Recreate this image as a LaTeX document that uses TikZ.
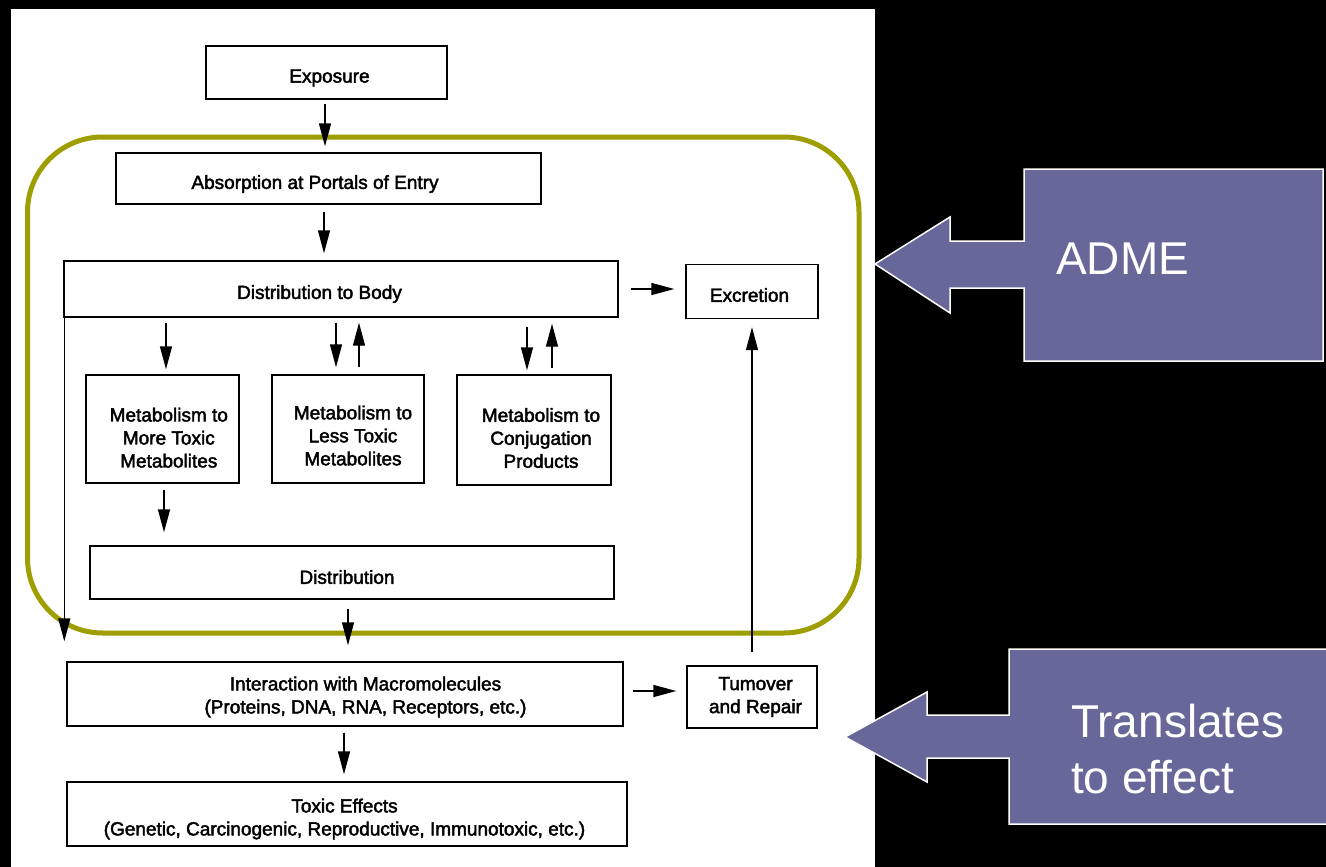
\documentclass[tikz,border=0pt]{standalone}
\usepackage{fontspec}
\setmainfont{Liberation Sans}
\newfontfamily\scanfont{Liberation Sans}[FakeBold=2.2]
\usetikzlibrary{arrows.meta,calc}
\definecolor{frameolive}{RGB}{158,158,0}
\definecolor{calloutfill}{RGB}{104,103,153}

\begin{document}
\begin{tikzpicture}[x=1pt,y=-1pt,
  box/.style={draw=black, line width=1.4pt, inner sep=0pt},
  boxtext/.style={font=\scanfont\fontsize{19}{23}\selectfont, align=center, inner sep=0pt, text=black},
  arr/.style={line width=1.4pt, draw=black, -{Triangle[length=23pt,width=12pt]}},
  callout/.style={fill=calloutfill, draw=white, line width=1.5pt, line join=miter},
  callouttext/.style={font=\fontsize{46}{56}\selectfont, text=white, align=left, inner sep=0pt, anchor=base west}]

\useasboundingbox (0,0) rectangle (1326,867);

% backdrop and white sheet
\fill[black] (0,0) rectangle (1326,867);
\fill[white] (11,9) rectangle (875,867);

% ADME frame
\draw[frameolive, line width=5pt, rounded corners=75pt] (27.5,137) rectangle (859,633);

% boxes
\node[box, minimum width=241pt, minimum height=53pt,
  label={[boxtext, xshift=3pt, yshift=-5.5pt]center:Exposure}] (expo) at (326.5,72.5) {};
\node[box, minimum width=425pt, minimum height=51pt,
  label={[boxtext, xshift=-13.5pt, yshift=-5.5pt]center:Absorption at Portals of Entry}] (absorb) at (328.5,178.5) {};
\node[box, minimum width=554pt, minimum height=56pt,
  label={[boxtext, xshift=-21.5pt, yshift=-5pt]center:Distribution to Body}] (distb) at (341,289) {};
\node[box, minimum width=132pt, minimum height=54pt,
  label={[boxtext, xshift=-2.5pt, yshift=-3.5pt]center:Excretion}] (excr) at (752,291.5) {};
\node[box, minimum width=153pt, minimum height=108pt,
  label={[boxtext, xshift=6.3pt, yshift=-8.7pt]center:{Metabolism to\\More Toxic\\Metabolites}}] (more) at (162.5,429) {};
\node[box, minimum width=152pt, minimum height=108pt,
  label={[boxtext, xshift=5pt, yshift=-6.5pt]center:{Metabolism to\\Less Toxic\\Metabolites}}] (less) at (348,429) {};
\node[box, minimum width=154pt, minimum height=110pt,
  label={[boxtext, xshift=7pt, yshift=-8pt]center:{Metabolism to\\Conjugation\\Products}}] (conj) at (534,430) {};
\node[box, minimum width=524pt, minimum height=53pt,
  label={[boxtext, xshift=-5pt, yshift=-4.5pt]center:Distribution}] (dist) at (352,572.5) {};
\node[box, minimum width=556pt, minimum height=64pt,
  label={[boxtext, xshift=20.5pt, yshift=-3pt]center:{Interaction with Macromolecules\\(Proteins, DNA, RNA, Receptors, etc.)}}] (inter) at (345,694) {};
\node[box, minimum width=130pt, minimum height=62pt,
  label={[boxtext, xshift=3.5pt, yshift=0pt]center:{Tumover\\and Repair}}] (turn) at (752,697) {};
\node[box, minimum width=560pt, minimum height=64pt,
  label={[boxtext, xshift=-2.5pt, yshift=-5pt]center:{Toxic Effects\\(Genetic, Carcinogenic, Reproductive, Immunotoxic, etc.)}}] (toxic) at (347,814) {};

% connectors
\draw[arr, shorten <=4pt, shorten >=6pt] ([xshift=-1.5pt]expo.south) -- ([xshift=-1.5pt]expo.south |- absorb.north);
\draw[arr, shorten <=7pt, shorten >=7pt] ([xshift=-4.5pt]absorb.south) -- ([xshift=-4.5pt]absorb.south |- distb.north);
\draw[arr, shorten <=12pt, shorten >=11pt] (distb.east) -- (distb.east -| excr.west);
\draw[arr, shorten <=5pt, shorten >=5pt] ([xshift=3.5pt]more.north |- distb.south) -- ([xshift=3.5pt]more.north);
\draw[arr, shorten <=5pt, shorten >=7pt] ([xshift=-12pt]less.north |- distb.south) -- ([xshift=-12pt]less.north);
\draw[arr, shorten <=7pt, shorten >=5pt] ([xshift=11pt]less.north) -- ([xshift=11pt]less.north |- distb.south);
\draw[arr, shorten <=9pt, shorten >=4pt] ([xshift=-7pt]conj.north |- distb.south) -- ([xshift=-7pt]conj.north);
\draw[arr, shorten <=6pt, shorten >=6pt] ([xshift=18pt]conj.north) -- ([xshift=18pt]conj.north |- distb.south);
\draw[arr, shorten <=6pt, shorten >=13pt] ([xshift=1.5pt]more.south) -- ([xshift=1.5pt]more.south |- dist.north);
\draw[arr, shorten <=9pt, shorten >=16pt] ([xshift=-4pt]dist.south) -- ([xshift=-4pt]dist.south |- inter.north);
\draw[arr, shorten >=20pt] ([xshift=1pt]distb.south west) -- ([xshift=1pt]distb.south west |- inter.north);
\draw[arr, shorten <=9pt, shorten >=10pt] ([yshift=3pt]inter.east) -- ([yshift=3pt]inter.east -| turn.west);
\draw[arr, shorten <=13pt, shorten >=8pt] (turn.north) -- (excr.south);
\draw[arr, shorten <=6pt, shorten >=7pt] ([xshift=-1pt]inter.south) -- ([xshift=-1pt]inter.south |- toxic.north);

% callout arrows
\draw[callout] (875,264) -- (950,217) -- (950,241) -- (1024,241) -- (1024,169)
  -- (1323,169) -- (1323,361) -- (1024,361) -- (1024,288) -- (950,288) -- (950,313) -- cycle;
\node[callouttext] (adme) at (1056,274) {ADME};

\draw[callout] (845,737) -- (927,692) -- (927,715) -- (1009,715) -- (1009,649)
  -- (1327,649) -- (1327,824) -- (1009,824) -- (1009,758) -- (927,758) -- (927,782) -- cycle;
\node[callouttext] (effect) at (1071,793) {Translates\\to effect};

\end{tikzpicture}
\end{document}
